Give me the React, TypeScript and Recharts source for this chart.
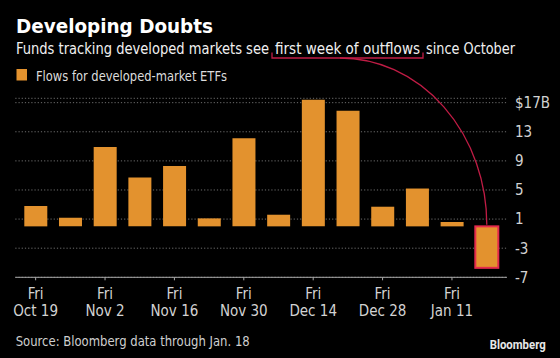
import { BarChart, Bar, XAxis, YAxis, CartesianGrid, Rectangle } from "recharts";

const weeks = ["Oct 19", "Oct 26", "Nov 2", "Nov 9", "Nov 16", "Nov 23", "Nov 30", "Dec 7", "Dec 14", "Dec 21", "Dec 28", "Jan 4", "Jan 11", "Jan 18"];
const flows = [2.8, 1.2, 10.9, 6.7, 8.3, 1.1, 12.1, 1.6, 17.4, 15.9, 2.7, 5.2, 0.6, -5.7];
const yTicks = [-7, -3, 1, 5, 9, 13, 17];

const data = weeks.map((week, i) => ({ week, flow: flows[i] }));

const FONT = '"Liberation Sans Narrow", "DejaVu Sans Condensed", Roboto, sans-serif';
const ORANGE = "#e3922e";
const RED = "#e42a4c";
const LINE_RED = "#c01c45";

// underline start of the annotation curve
const ARC_X = 340;
const ARC_Y = 58;

function BarShape(props: any) {
  const { x, y, width, height, index } = props;
  const last = index === flows.length - 1;
  if (!last) return <Rectangle x={x} y={y} width={width} height={height} fill={ORANGE} />;
  const top = Math.min(y, y + height);
  const h = Math.abs(height);
  const cx = x + width / 2;
  const end = top - 1.5;
  return (
    <g>
      <rect x={x} y={top} width={width} height={h} fill={ORANGE} stroke={RED} strokeWidth={2} />
      <path
        d={`M ${ARC_X} ${ARC_Y} A ${cx - ARC_X} ${end - ARC_Y} 0 0 1 ${cx} ${end}`}
        fill="none"
        stroke={LINE_RED}
        strokeWidth={1.3}
      />
    </g>
  );
}

function WeekTick(props: any) {
  const { x, y, payload } = props;
  return (
    <g>
      <text x={x} y={y + 16.7} textAnchor="middle" fill="#d2d2d2" fontSize={15} fontFamily={FONT}>
        Fri
      </text>
      <text x={x} y={y + 33.4} textAnchor="middle" fill="#d2d2d2" fontSize={15} fontFamily={FONT}>
        {payload.value}
      </text>
    </g>
  );
}

export default function App() {
  return (
    <div style={{ position: "absolute", left: 0, top: 0, width: 560, height: 358, background: "#000", overflow: "hidden" }}>
      <BarChart
        width={560}
        height={358}
        data={data}
        margin={{ top: 98.3, right: 0, bottom: 40.7, left: 15.3 }}
        style={{ position: "absolute", left: 0, top: 0 }}
      >
        <CartesianGrid vertical={false} stroke="#6e6e6e" strokeDasharray="1.2 2" />
        <XAxis
          dataKey="week"
          interval={1}
          height={40}
          padding={{ left: 3, right: 3 }}
          axisLine={{ stroke: "#a8a8a8" }}
          tickLine={{ stroke: "#a8a8a8" }}
          tickSize={3}
          tick={<WeekTick />}
        />
        <YAxis
          orientation="right"
          width={53}
          domain={[-7, 17.6]}
          ticks={yTicks}
          axisLine={false}
          tickLine={false}
          tickSize={0}
          tickMargin={8}
          tickFormatter={(v: number) => (v === 17 ? "$17B" : String(v))}
          tick={{ fill: "#d2d2d2", fontSize: 15, fontFamily: FONT, textAnchor: "start" }}
        />
        <Bar dataKey="flow" barSize={23} shape={<BarShape />} isAnimationActive={false} />
      </BarChart>
      <svg width={560} height={358} style={{ position: "absolute", left: 0, top: 0, pointerEvents: "none" }}>
        <text x={16} y={33.3} fill="#fff" fontSize={19} fontWeight="bold" fontFamily={FONT} textLength={197} lengthAdjust="spacingAndGlyphs">
          Developing Doubts
        </text>
        <g fill="#f0f0f0" fontSize={15.5} fontFamily={FONT}>
          <text x={16} y={54.3} textLength={253} lengthAdjust="spacingAndGlyphs">Funds tracking developed markets see</text>
          <text x={275} y={54.3} textLength={145} lengthAdjust="spacingAndGlyphs">first week of outflows</text>
          <text x={426} y={54.3} textLength={89} lengthAdjust="spacingAndGlyphs">since October</text>
        </g>
        <path d="M 272 52.5 L 272 58 L 423 58 L 423 52.5" fill="none" stroke={LINE_RED} strokeWidth={1.3} />
        <rect x={16.5} y={69} width={10.5} height={11.5} fill={ORANGE} />
        <text x={36} y={80.5} fill="#dcdcdc" fontSize={14.5} fontFamily={FONT} textLength={191} lengthAdjust="spacingAndGlyphs">
          Flows for developed-market ETFs
        </text>
        <text x={15.7} y={346} fill="#cfcfcf" fontSize={14.5} fontFamily={FONT} textLength={234} lengthAdjust="spacingAndGlyphs">
          Source: Bloomberg data through Jan. 18
        </text>
        <text x={545.7} y={349.3} textAnchor="end" fill="#e8e8e8" fontSize={12} fontWeight="bold" fontFamily="Roboto, sans-serif" textLength={56} lengthAdjust="spacingAndGlyphs">
          Bloomberg
        </text>
      </svg>
    </div>
  );
}
